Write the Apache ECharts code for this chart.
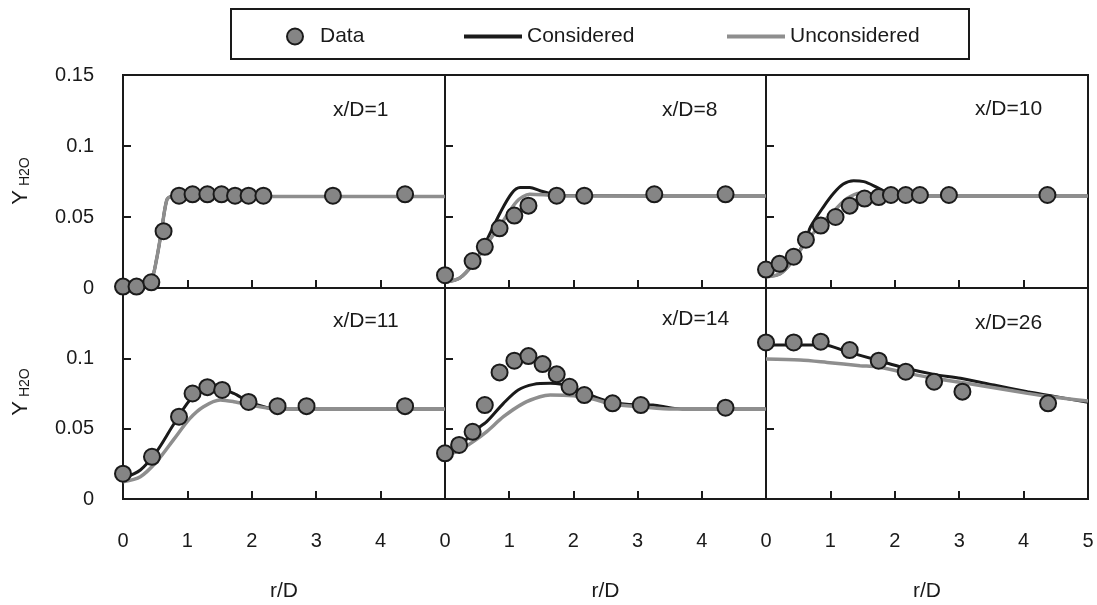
<!DOCTYPE html>
<html>
<head>
<meta charset="utf-8">
<script src="https://cdn.jsdelivr.net/npm/echarts@6/dist/echarts.min.js"></script>
<style>
  html, body { margin: 0; padding: 0; background: #fff; }
  #main { width: 1097px; height: 605px; }
</style>
</head>
<body>
<div id="main"></div>
<script>
// values, [r/D, Y_H2O]
var panelLabels = ['x/D=1', 'x/D=8', 'x/D=10', 'x/D=11', 'x/D=14', 'x/D=26'];

var dataXD1 = [[0, 0.001], [0.21, 0.001], [0.44, 0.004], [0.63, 0.040], [0.87, 0.065], [1.08, 0.066], [1.31, 0.066], [1.53, 0.066], [1.74, 0.065], [1.95, 0.065], [2.18, 0.065], [3.26, 0.065], [4.38, 0.066]];
var consXD1 = [[0, 0.002], [0.3, 0.003], [0.44, 0.006], [0.52, 0.020], [0.6, 0.041], [0.68, 0.062], [0.75, 0.0645], [5, 0.0645]];
var unconsXD1 = [[0, 0.002], [0.3, 0.003], [0.44, 0.006], [0.52, 0.020], [0.6, 0.041], [0.68, 0.062], [0.75, 0.0645], [5, 0.0645]];

var dataXD8 = [[0, 0.009], [0.43, 0.019], [0.62, 0.029], [0.85, 0.042], [1.08, 0.051], [1.3, 0.058], [1.74, 0.065], [2.17, 0.065], [3.26, 0.066], [4.37, 0.066]];
var consXD8 = [[0, 0.004], [0.23, 0.007], [0.44, 0.017], [0.62, 0.031], [0.86, 0.053], [1.04, 0.0667], [1.17, 0.0707], [1.32, 0.0707], [1.48, 0.0685], [1.69, 0.066], [1.85, 0.065], [5, 0.0648]];
var unconsXD8 = [[0, 0.004], [0.23, 0.007], [0.44, 0.017], [0.62, 0.029], [0.86, 0.044], [1.12, 0.061], [1.32, 0.066], [1.6, 0.0655], [1.8, 0.065], [5, 0.0648]];

var dataXD10 = [[0, 0.013], [0.21, 0.017], [0.43, 0.022], [0.62, 0.034], [0.85, 0.044], [1.08, 0.050], [1.3, 0.058], [1.53, 0.063], [1.75, 0.064], [1.94, 0.0655], [2.17, 0.0655], [2.39, 0.0655], [2.84, 0.0655], [4.37, 0.0655]];
var consXD10 = [[0, 0.008], [0.22, 0.010], [0.43, 0.020], [0.63, 0.035], [0.69, 0.043], [0.89, 0.057], [1.05, 0.0667], [1.2, 0.0732], [1.36, 0.0756], [1.52, 0.0749], [1.7, 0.0714], [1.88, 0.0671], [2.04, 0.0655], [2.2, 0.0648], [5, 0.0648]];
var unconsXD10 = [[0, 0.008], [0.22, 0.010], [0.43, 0.020], [0.63, 0.033], [0.84, 0.044], [1.05, 0.054], [1.26, 0.063], [1.46, 0.0667], [1.67, 0.066], [1.88, 0.0648], [5, 0.0648]];

var dataXD11 = [[0, 0.018], [0.45, 0.030], [0.87, 0.0585], [1.08, 0.075], [1.31, 0.0795], [1.54, 0.0775], [1.95, 0.069], [2.4, 0.066], [2.85, 0.066], [4.38, 0.066]];
var consXD11 = [[0, 0.0147], [0.27, 0.0206], [0.52, 0.0336], [0.78, 0.0526], [1.04, 0.0704], [1.25, 0.0768], [1.46, 0.0787], [1.72, 0.0751], [1.95, 0.0692], [2.24, 0.0649], [2.4, 0.064], [5, 0.064]];
var unconsXD11 = [[0, 0.0123], [0.27, 0.0159], [0.52, 0.0265], [0.78, 0.0419], [1.04, 0.0573], [1.25, 0.0656], [1.51, 0.0704], [1.72, 0.0692], [2.03, 0.0663], [2.39, 0.064], [5, 0.064]];

var dataXD14 = [[0, 0.0325], [0.22, 0.0384], [0.43, 0.0478], [0.62, 0.0668], [0.85, 0.090], [1.08, 0.0983], [1.3, 0.1016], [1.52, 0.0959], [1.74, 0.0886], [1.94, 0.0798], [2.17, 0.0739], [2.61, 0.068], [3.05, 0.0668], [4.37, 0.0649]];
var consXD14 = [[0, 0.0325], [0.23, 0.0372], [0.44, 0.0479], [0.65, 0.055], [0.91, 0.068], [1.14, 0.0775], [1.38, 0.0815], [1.64, 0.0822], [1.79, 0.0817], [2.0, 0.0787], [2.26, 0.0739], [2.52, 0.0697], [2.83, 0.0673], [3.24, 0.0668], [3.5, 0.0649], [3.7, 0.064], [5, 0.064]];
var unconsXD14 = [[0, 0.0301], [0.23, 0.0348], [0.44, 0.0408], [0.65, 0.0479], [0.91, 0.0585], [1.22, 0.068], [1.48, 0.0727], [1.64, 0.0739], [2.0, 0.0734], [2.26, 0.0716], [2.62, 0.0673], [3.04, 0.0656], [3.56, 0.064], [5, 0.064]];

var dataXD26 = [[0, 0.1113], [0.43, 0.1113], [0.85, 0.1118], [1.3, 0.1059], [1.75, 0.0983], [2.17, 0.0905], [2.61, 0.0834], [3.05, 0.0763], [4.38, 0.068]];
var consXD26 = [[0, 0.1095], [0.9, 0.1095], [1.26, 0.1047], [1.72, 0.0988], [2.14, 0.0933], [2.61, 0.0886], [3.02, 0.0858], [3.54, 0.081], [4.06, 0.0763], [4.42, 0.0734], [5, 0.0687]];
var unconsXD26 = [[0, 0.0995], [0.53, 0.0988], [0.95, 0.0971], [1.46, 0.0948], [1.72, 0.094], [2.14, 0.09], [2.61, 0.0858], [3.02, 0.083], [3.54, 0.0791], [4.06, 0.0751], [4.42, 0.0727], [5, 0.0697]];

var panelData = [dataXD1, dataXD8, dataXD10, dataXD11, dataXD14, dataXD26];
var panelCons = [consXD1, consXD8, consXD10, consXD11, consXD14, consXD26];
var panelUncons = [unconsXD1, unconsXD8, unconsXD10, unconsXD11, unconsXD14, unconsXD26];
</script>
<script>
(function(){
    var FONT = 'Liberation Sans, Arial, sans-serif';
    var INK = '#1a1a1a';
    var GREY = '#8e8e8e';
    var chart = echarts.init(document.getElementById('main'), null, {renderer: 'canvas'});

    // panel boxes in px
    var lefts = [123, 445, 766], widths = [322, 321, 322];
    var tops = [75, 288], heights = [213, 211];
    var labelPos = [[333, 110], [662, 110], [975, 109], [333, 321], [662, 319], [975, 323]];

    var grids = [], xAxes = [], yAxes = [], series = [], graphics = [];
    for (var i = 0; i < 6; i++) {
        var col = i % 3, row = Math.floor(i / 3);
        grids.push({
            left: lefts[col], top: tops[row], width: widths[col], height: heights[row],
            show: true, borderColor: INK, borderWidth: 2, backgroundColor: 'transparent'
        });
        xAxes.push({
            gridIndex: i, type: 'value', min: 0, max: 5, interval: 1,
            axisLine: {show: true, lineStyle: {color: INK, width: 2}},
            axisTick: {show: true, inside: true, length: 8, lineStyle: {color: INK, width: 2}},
            axisLabel: {
                show: row === 1, margin: 32, fontSize: 20, fontFamily: FONT, color: INK,
                showMaxLabel: col === 2, showMinLabel: true
            },
            splitLine: {show: false},
            name: row === 1 ? 'r/D' : '', nameLocation: 'middle', nameGap: 82,
            nameTextStyle: {fontSize: 21, fontFamily: FONT, color: INK}
        });
        yAxes.push({
            gridIndex: i, type: 'value', min: 0, max: 0.15, interval: 0.05,
            axisLine: {show: true, lineStyle: {color: INK, width: 2}},
            axisTick: {show: true, inside: true, length: 8, lineStyle: {color: INK, width: 2}},
            axisLabel: {
                show: col === 0, margin: 29, fontSize: 20, fontFamily: FONT, color: INK,
                padding: [10, 0, 0, 0], showMaxLabel: row === 0, showMinLabel: true
            },
            splitLine: {show: false}
        });
        series.push({
            name: 'Considered', type: 'line', xAxisIndex: i, yAxisIndex: i,
            data: panelCons[i], symbol: 'none', smooth: 0.3, z: 2,
            lineStyle: {color: INK, width: 3}, itemStyle: {color: INK}
        });
        series.push({
            name: 'Unconsidered', type: 'line', xAxisIndex: i, yAxisIndex: i,
            data: panelUncons[i], symbol: 'none', smooth: 0.3, z: 3,
            lineStyle: {color: GREY, width: 3.5}, itemStyle: {color: GREY}
        });
        series.push({
            name: 'Data', type: 'scatter', xAxisIndex: i, yAxisIndex: i,
            data: panelData[i], symbol: 'circle', symbolSize: 16, z: 4, clip: false,
            itemStyle: {color: '#858585', borderColor: INK, borderWidth: 2, opacity: 1}
        });
        graphics.push({
            type: 'text', x: labelPos[i][0], y: labelPos[i][1],
            style: {text: panelLabels[i], font: '21px ' + FONT, fill: INK, align: 'left', verticalAlign: 'middle'}
        });
    }

    // Y_H2O axis titles
    [181, 392].forEach(function(cy){
        graphics.push({
            type: 'text', x: 21, y: cy, rotation: Math.PI / 2,
            style: {
                text: '{a|Y}{b| H2O}', align: 'center', verticalAlign: 'middle', fill: INK,
                rich: {
                    a: {fontSize: 22, fontFamily: FONT, fill: INK, verticalAlign: 'bottom'},
                    b: {fontSize: 14, fontFamily: FONT, fill: INK, verticalAlign: 'bottom'}
                }
            }
        });
    });

    // legend frame
    graphics.push({
        type: 'rect', shape: {x: 231, y: 9, width: 738, height: 50},
        style: {fill: 'none', stroke: INK, lineWidth: 2}
    });

    var legendText = {fontSize: 21, fontFamily: FONT, color: INK};
    var option = {
        animation: false,
        backgroundColor: '#fff',
        grid: grids,
        xAxis: xAxes,
        yAxis: yAxes,
        legend: [
            {data: [{name: 'Data', icon: 'circle'}], left: 286, top: 26, padding: 0, itemWidth: 16, itemHeight: 16,
                textStyle: {fontSize: 21, fontFamily: FONT, color: INK, padding: [0, 0, 0, 12]}},
            {data: [{name: 'Considered', icon: 'rect'}], left: 464, top: 26, padding: 0, itemWidth: 58, itemHeight: 4,
                itemStyle: {color: INK, borderWidth: 0}, textStyle: legendText},
            {data: [{name: 'Unconsidered', icon: 'rect'}], left: 727, top: 26, padding: 0, itemWidth: 58, itemHeight: 4,
                itemStyle: {color: GREY, borderWidth: 0}, textStyle: legendText}
        ],
        graphic: graphics,
        series: series
    };
    chart.setOption(option);
})();
</script>
</body>
</html>
